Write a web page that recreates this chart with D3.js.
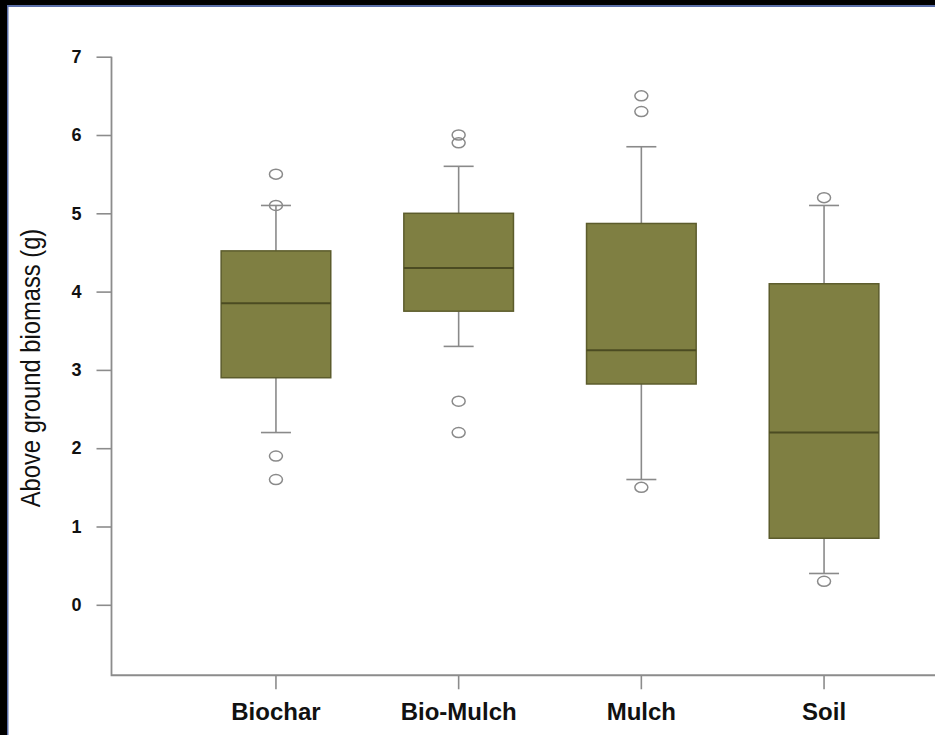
<!DOCTYPE html>
<html>
<head>
<meta charset="utf-8">
<script src="https://cdn.jsdelivr.net/npm/d3@7"></script>
<style>
  html, body { margin: 0; padding: 0; background: #000; }
  svg { display: block; }
  text { font-family: "Liberation Sans", Arial, sans-serif; }
</style>
</head>
<body>
<svg id="chart" width="935" height="735"></svg>
<script>
// Above ground biomass (g) by treatment: five-number summaries and outliers
const categories = ["Biochar", "Bio-Mulch", "Mulch", "Soil"];
const lowerWhisker = [2.2, 3.3, 1.6, 0.4];
const q1 = [2.9, 3.75, 2.82, 0.85];
const median = [3.85, 4.3, 3.25, 2.2];
const q3 = [4.52, 5.0, 4.87, 4.1];
const upperWhisker = [5.1, 5.6, 5.85, 5.1];
const outliers = [
  [5.5, 5.1, 1.9, 1.6],
  [6.0, 5.9, 2.6, 2.2],
  [6.5, 6.3, 1.5],
  [5.2, 0.3]
];
const yTicks = [0, 1, 2, 3, 4, 5, 6, 7];
const yLabel = "Above ground biomass (g)";

const W = 935, H = 735;
const svg = d3.select("#chart");

// frame: dark border with a thin blue inner edge, white page
svg.append("rect").attr("width", W).attr("height", H).attr("fill", "#000");
svg.append("rect").attr("x", 7).attr("y", 5).attr("width", W - 7).attr("height", H - 5).attr("fill", "#5b6fa8");
svg.append("rect").attr("x", 8.5).attr("y", 7).attr("width", W - 8.5).attr("height", H - 7).attr("fill", "#fff");

const y = d3.scaleLinear().domain([0, 7]).range([604.8, 56.7]);
const x = d3.scaleBand().domain(categories).range([184.6, 915.4])
  .paddingInner(0.4).paddingOuter(0.2);

const axisLeftX = 111.5;
const bottomY = y(-0.9);
const axisColor = "#8c8c8c";

// L-shaped frame: left axis line down to the bottom line
svg.append("path")
  .attr("d", `M${axisLeftX},${y(7)}V${bottomY}H${W}`)
  .attr("fill", "none").attr("stroke", axisColor).attr("stroke-width", 1.8);

// y axis
const yAxis = svg.append("g").attr("transform", `translate(${axisLeftX},0)`)
  .call(d3.axisLeft(y).tickValues(yTicks).tickFormat(d3.format("d")).tickSize(15).tickPadding(15));
yAxis.select(".domain").remove();
yAxis.selectAll(".tick line").attr("stroke", axisColor).attr("stroke-width", 1.6);
yAxis.selectAll(".tick text")
  .attr("fill", "#111").attr("font-size", 18).attr("font-weight", "bold")
  .style("font-family", "'Liberation Sans', Arial, sans-serif");

// x axis
const xAxis = svg.append("g").attr("transform", `translate(0,${bottomY})`)
  .call(d3.axisBottom(x).tickSize(14).tickPadding(14));
xAxis.select(".domain").remove();
xAxis.selectAll(".tick line").attr("stroke", axisColor).attr("stroke-width", 1.6);
xAxis.selectAll(".tick text")
  .attr("fill", "#111").attr("font-size", 24).attr("font-weight", "bold")
  .style("font-family", "'Liberation Sans', Arial, sans-serif");

// y axis title (slightly condensed along the baseline)
svg.append("text")
  .attr("transform", `translate(39.5,368) rotate(-90) scale(0.88,1)`)
  .attr("text-anchor", "middle")
  .attr("font-size", 27)
  .attr("fill", "#111")
  .text(yLabel);

// boxes
const boxFill = "#7f7f42", boxStroke = "#5c5c2c", medianColor = "#4b4b22";
const whiskerColor = "#8a8a8a";
const capHalf = 15;

const groups = svg.append("g").selectAll("g").data(categories).join("g");

groups.each(function (c, i) {
  const g = d3.select(this);
  const cx = x(c) + x.bandwidth() / 2;
  // whiskers
  g.append("line").attr("x1", cx).attr("x2", cx)
    .attr("y1", y(upperWhisker[i])).attr("y2", y(q3[i]))
    .attr("stroke", whiskerColor).attr("stroke-width", 1.6);
  g.append("line").attr("x1", cx).attr("x2", cx)
    .attr("y1", y(q1[i])).attr("y2", y(lowerWhisker[i]))
    .attr("stroke", whiskerColor).attr("stroke-width", 1.6);
  [upperWhisker[i], lowerWhisker[i]].forEach(v => {
    g.append("line").attr("x1", cx - capHalf).attr("x2", cx + capHalf)
      .attr("y1", y(v)).attr("y2", y(v))
      .attr("stroke", whiskerColor).attr("stroke-width", 1.6);
  });
  // box
  g.append("rect")
    .attr("x", x(c)).attr("width", x.bandwidth())
    .attr("y", y(q3[i])).attr("height", y(q1[i]) - y(q3[i]))
    .attr("fill", boxFill).attr("stroke", boxStroke).attr("stroke-width", 1.5);
  // median
  g.append("line").attr("x1", x(c)).attr("x2", x(c) + x.bandwidth())
    .attr("y1", y(median[i])).attr("y2", y(median[i]))
    .attr("stroke", medianColor).attr("stroke-width", 2);
  // outliers
  g.selectAll("ellipse").data(outliers[i]).join("ellipse")
    .attr("cx", cx).attr("cy", d => y(d))
    .attr("rx", 6.5).attr("ry", 5)
    .attr("fill", "none").attr("stroke", whiskerColor).attr("stroke-width", 1.5);
});
</script>
</body>
</html>
